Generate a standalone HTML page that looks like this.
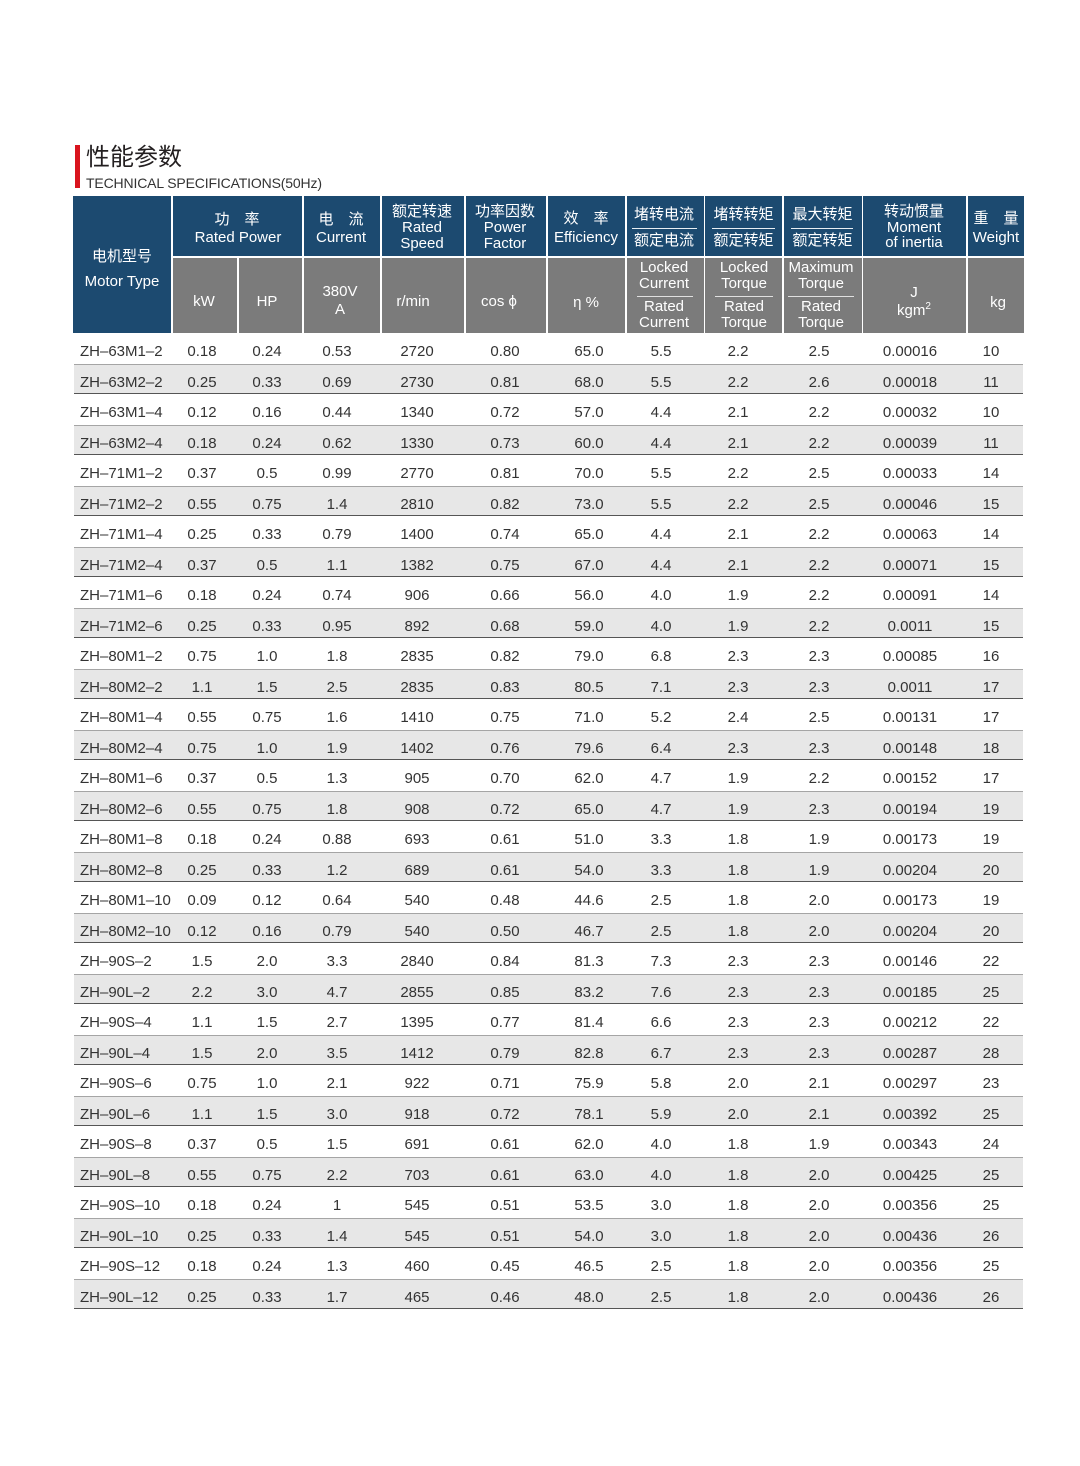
<!DOCTYPE html>
<html><head><meta charset="utf-8">
<style>
body{margin:0;width:1080px;height:1466px;background:#fff;position:relative;overflow:hidden;font-family:"Liberation Sans","Noto Sans CJK SC",sans-serif;}
.b{position:absolute;background:#1c4a70}
.h{position:absolute;background:#7b7b7b}
.t{position:absolute;color:#fff;font-size:15px;line-height:16px;text-align:center;white-space:nowrap;width:120px}
.ln{position:absolute;height:1px;background:#e8eef3}
.r{position:absolute;left:74px;width:949px;height:30.5px;box-sizing:border-box}
.g{background:#e7e7e7;border-top:1px solid #a5a5a5;border-bottom:1.5px solid #555}
.r span{position:absolute;top:9px;line-height:20px;font-size:15px;color:#333;width:80px;text-align:center;white-space:nowrap}
.g span{top:8px}
.r span:nth-child(1){left:6px;text-align:left;width:110px}
.r span:nth-child(2){left:88px}
.r span:nth-child(3){left:153px}
.r span:nth-child(4){left:223px}
.r span:nth-child(5){left:303px}
.r span:nth-child(6){left:391px}
.r span:nth-child(7){left:475px}
.r span:nth-child(8){left:547px}
.r span:nth-child(9){left:624px}
.r span:nth-child(10){left:705px}
.r span:nth-child(11){left:796px}
.r span:nth-child(12){left:877px}
</style></head><body>

<div style="position:absolute;left:75px;top:145px;width:5px;height:43px;background:#d9141e"></div>
<div style="position:absolute;left:86px;top:145.5px;font-size:24px;line-height:24px;color:#231f20;font-family:'Liberation Sans','Noto Sans CJK SC',sans-serif;white-space:nowrap">性能参数</div>
<div style="position:absolute;left:86px;top:175.5px;font-size:14px;line-height:14px;color:#333;letter-spacing:-0.15px;white-space:nowrap">TECHNICAL SPECIFICATIONS(50Hz)</div>

<!-- header blue -->
<div class="b" style="left:73px;top:196px;width:98px;height:137px"></div>
<div class="b" style="left:172.5px;top:196px;width:129.5px;height:60px"></div>
<div class="b" style="left:303.5px;top:196px;width:76.5px;height:60px"></div>
<div class="b" style="left:381.5px;top:196px;width:82.5px;height:60px"></div>
<div class="b" style="left:466px;top:196px;width:80px;height:60px"></div>
<div class="b" style="left:547.5px;top:196px;width:77.5px;height:60px"></div>
<div class="b" style="left:627px;top:196px;width:76.5px;height:60px"></div>
<div class="b" style="left:705px;top:196px;width:77px;height:60px"></div>
<div class="b" style="left:783.5px;top:196px;width:78px;height:60px"></div>
<div class="b" style="left:863px;top:196px;width:103px;height:60px"></div>
<div class="b" style="left:968px;top:196px;width:56px;height:60px"></div>
<!-- header gray -->
<div class="h" style="left:172.5px;top:258px;width:64px;height:75px"></div>
<div class="h" style="left:238.5px;top:258px;width:63.5px;height:75px"></div>
<div class="h" style="left:303.5px;top:258px;width:76.5px;height:75px"></div>
<div class="h" style="left:381.5px;top:258px;width:82.5px;height:75px"></div>
<div class="h" style="left:466px;top:258px;width:80px;height:75px"></div>
<div class="h" style="left:547.5px;top:258px;width:77.5px;height:75px"></div>
<div class="h" style="left:627px;top:258px;width:76.5px;height:75px"></div>
<div class="h" style="left:705px;top:258px;width:77px;height:75px"></div>
<div class="h" style="left:783.5px;top:258px;width:78px;height:75px"></div>
<div class="h" style="left:863px;top:258px;width:103px;height:75px"></div>
<div class="h" style="left:968px;top:258px;width:56px;height:75px"></div>

<!-- header text blue -->
<div class="t" style="left:62px;top:248.7px">电机型号</div>
<div class="t" style="left:62px;top:273.7px">Motor Type</div>

<div class="t" style="left:177px;top:212px">功　率</div>
<div class="t" style="left:178px;top:230px">Rated Power</div>

<div class="t" style="left:281px;top:212px">电　流</div>
<div class="t" style="left:281px;top:230px">Current</div>

<div class="t" style="left:362px;top:203.7px">额定转速</div>
<div class="t" style="left:362px;top:219.7px">Rated</div>
<div class="t" style="left:362px;top:236px">Speed</div>

<div class="t" style="left:445px;top:203.7px">功率因数</div>
<div class="t" style="left:445px;top:219.7px">Power</div>
<div class="t" style="left:445px;top:236px">Factor</div>

<div class="t" style="left:526px;top:211.3px">效　率</div>
<div class="t" style="left:526px;top:230.3px">Efficiency</div>

<div class="t" style="left:604px;top:207px">堵转电流</div>
<div class="ln" style="left:632px;top:228px;width:65px"></div>
<div class="t" style="left:604px;top:233px">额定电流</div>

<div class="t" style="left:683.5px;top:207px">堵转转矩</div>
<div class="ln" style="left:712px;top:228px;width:63px"></div>
<div class="t" style="left:683.5px;top:233px">额定转矩</div>

<div class="t" style="left:762.5px;top:207px">最大转矩</div>
<div class="ln" style="left:791px;top:228px;width:62px"></div>
<div class="t" style="left:762.5px;top:233px">额定转矩</div>

<div class="t" style="left:854px;top:203.7px">转动惯量</div>
<div class="t" style="left:854px;top:219.7px">Moment</div>
<div class="t" style="left:854px;top:235.3px">of inertia</div>

<div class="t" style="left:936px;top:211.3px">重　量</div>
<div class="t" style="left:936px;top:230.3px">Weight</div>

<!-- header text gray -->
<div class="t" style="left:144px;top:293.7px">kW</div>
<div class="t" style="left:207px;top:294px">HP</div>
<div class="t" style="left:280px;top:283.7px">380V</div>
<div class="t" style="left:280px;top:302px">A</div>
<div class="t" style="left:353px;top:294px">r/min</div>
<div class="t" style="left:439px;top:294px">cos ϕ</div>
<div class="t" style="left:526px;top:295.3px">η %</div>

<div class="t" style="left:604px;top:260.3px">Locked</div>
<div class="t" style="left:604px;top:276.3px">Current</div>
<div class="ln" style="left:637px;top:296px;width:56px;background:#e0e0e0"></div>
<div class="t" style="left:604px;top:299.3px">Rated</div>
<div class="t" style="left:604px;top:315.3px">Current</div>

<div class="t" style="left:684px;top:260.3px">Locked</div>
<div class="t" style="left:684px;top:276.3px">Torque</div>
<div class="ln" style="left:715px;top:296px;width:58px;background:#e0e0e0"></div>
<div class="t" style="left:684px;top:299.3px">Rated</div>
<div class="t" style="left:684px;top:315.3px">Torque</div>

<div class="t" style="left:761px;top:260.3px">Maximum</div>
<div class="t" style="left:761px;top:276.3px">Torque</div>
<div class="ln" style="left:788px;top:296px;width:66px;background:#e0e0e0"></div>
<div class="t" style="left:761px;top:299.3px">Rated</div>
<div class="t" style="left:761px;top:315.3px">Torque</div>

<div class="t" style="left:854px;top:284.7px">J</div>
<div class="t" style="left:854px;top:302.7px">kgm<sup style="font-size:10px;line-height:0">2</sup></div>
<div class="t" style="left:938px;top:294.7px">kg</div>

<!-- data rows -->
<div class="r" style="top:333px"><span>ZH–63M1–2</span><span>0.18</span><span>0.24</span><span>0.53</span><span>2720</span><span>0.80</span><span>65.0</span><span>5.5</span><span>2.2</span><span>2.5</span><span>0.00016</span><span>10</span></div>
<div class="r g" style="top:363.5px"><span>ZH–63M2–2</span><span>0.25</span><span>0.33</span><span>0.69</span><span>2730</span><span>0.81</span><span>68.0</span><span>5.5</span><span>2.2</span><span>2.6</span><span>0.00018</span><span>11</span></div>
<div class="r" style="top:394px"><span>ZH–63M1–4</span><span>0.12</span><span>0.16</span><span>0.44</span><span>1340</span><span>0.72</span><span>57.0</span><span>4.4</span><span>2.1</span><span>2.2</span><span>0.00032</span><span>10</span></div>
<div class="r g" style="top:424.5px"><span>ZH–63M2–4</span><span>0.18</span><span>0.24</span><span>0.62</span><span>1330</span><span>0.73</span><span>60.0</span><span>4.4</span><span>2.1</span><span>2.2</span><span>0.00039</span><span>11</span></div>
<div class="r" style="top:455px"><span>ZH–71M1–2</span><span>0.37</span><span>0.5</span><span>0.99</span><span>2770</span><span>0.81</span><span>70.0</span><span>5.5</span><span>2.2</span><span>2.5</span><span>0.00033</span><span>14</span></div>
<div class="r g" style="top:485.5px"><span>ZH–71M2–2</span><span>0.55</span><span>0.75</span><span>1.4</span><span>2810</span><span>0.82</span><span>73.0</span><span>5.5</span><span>2.2</span><span>2.5</span><span>0.00046</span><span>15</span></div>
<div class="r" style="top:516px"><span>ZH–71M1–4</span><span>0.25</span><span>0.33</span><span>0.79</span><span>1400</span><span>0.74</span><span>65.0</span><span>4.4</span><span>2.1</span><span>2.2</span><span>0.00063</span><span>14</span></div>
<div class="r g" style="top:546.5px"><span>ZH–71M2–4</span><span>0.37</span><span>0.5</span><span>1.1</span><span>1382</span><span>0.75</span><span>67.0</span><span>4.4</span><span>2.1</span><span>2.2</span><span>0.00071</span><span>15</span></div>
<div class="r" style="top:577px"><span>ZH–71M1–6</span><span>0.18</span><span>0.24</span><span>0.74</span><span>906</span><span>0.66</span><span>56.0</span><span>4.0</span><span>1.9</span><span>2.2</span><span>0.00091</span><span>14</span></div>
<div class="r g" style="top:607.5px"><span>ZH–71M2–6</span><span>0.25</span><span>0.33</span><span>0.95</span><span>892</span><span>0.68</span><span>59.0</span><span>4.0</span><span>1.9</span><span>2.2</span><span>0.0011</span><span>15</span></div>
<div class="r" style="top:638px"><span>ZH–80M1–2</span><span>0.75</span><span>1.0</span><span>1.8</span><span>2835</span><span>0.82</span><span>79.0</span><span>6.8</span><span>2.3</span><span>2.3</span><span>0.00085</span><span>16</span></div>
<div class="r g" style="top:668.5px"><span>ZH–80M2–2</span><span>1.1</span><span>1.5</span><span>2.5</span><span>2835</span><span>0.83</span><span>80.5</span><span>7.1</span><span>2.3</span><span>2.3</span><span>0.0011</span><span>17</span></div>
<div class="r" style="top:699px"><span>ZH–80M1–4</span><span>0.55</span><span>0.75</span><span>1.6</span><span>1410</span><span>0.75</span><span>71.0</span><span>5.2</span><span>2.4</span><span>2.5</span><span>0.00131</span><span>17</span></div>
<div class="r g" style="top:729.5px"><span>ZH–80M2–4</span><span>0.75</span><span>1.0</span><span>1.9</span><span>1402</span><span>0.76</span><span>79.6</span><span>6.4</span><span>2.3</span><span>2.3</span><span>0.00148</span><span>18</span></div>
<div class="r" style="top:760px"><span>ZH–80M1–6</span><span>0.37</span><span>0.5</span><span>1.3</span><span>905</span><span>0.70</span><span>62.0</span><span>4.7</span><span>1.9</span><span>2.2</span><span>0.00152</span><span>17</span></div>
<div class="r g" style="top:790.5px"><span>ZH–80M2–6</span><span>0.55</span><span>0.75</span><span>1.8</span><span>908</span><span>0.72</span><span>65.0</span><span>4.7</span><span>1.9</span><span>2.3</span><span>0.00194</span><span>19</span></div>
<div class="r" style="top:821px"><span>ZH–80M1–8</span><span>0.18</span><span>0.24</span><span>0.88</span><span>693</span><span>0.61</span><span>51.0</span><span>3.3</span><span>1.8</span><span>1.9</span><span>0.00173</span><span>19</span></div>
<div class="r g" style="top:851.5px"><span>ZH–80M2–8</span><span>0.25</span><span>0.33</span><span>1.2</span><span>689</span><span>0.61</span><span>54.0</span><span>3.3</span><span>1.8</span><span>1.9</span><span>0.00204</span><span>20</span></div>
<div class="r" style="top:882px"><span>ZH–80M1–10</span><span>0.09</span><span>0.12</span><span>0.64</span><span>540</span><span>0.48</span><span>44.6</span><span>2.5</span><span>1.8</span><span>2.0</span><span>0.00173</span><span>19</span></div>
<div class="r g" style="top:912.5px"><span>ZH–80M2–10</span><span>0.12</span><span>0.16</span><span>0.79</span><span>540</span><span>0.50</span><span>46.7</span><span>2.5</span><span>1.8</span><span>2.0</span><span>0.00204</span><span>20</span></div>
<div class="r" style="top:943px"><span>ZH–90S–2</span><span>1.5</span><span>2.0</span><span>3.3</span><span>2840</span><span>0.84</span><span>81.3</span><span>7.3</span><span>2.3</span><span>2.3</span><span>0.00146</span><span>22</span></div>
<div class="r g" style="top:973.5px"><span>ZH–90L–2</span><span>2.2</span><span>3.0</span><span>4.7</span><span>2855</span><span>0.85</span><span>83.2</span><span>7.6</span><span>2.3</span><span>2.3</span><span>0.00185</span><span>25</span></div>
<div class="r" style="top:1004px"><span>ZH–90S–4</span><span>1.1</span><span>1.5</span><span>2.7</span><span>1395</span><span>0.77</span><span>81.4</span><span>6.6</span><span>2.3</span><span>2.3</span><span>0.00212</span><span>22</span></div>
<div class="r g" style="top:1034.5px"><span>ZH–90L–4</span><span>1.5</span><span>2.0</span><span>3.5</span><span>1412</span><span>0.79</span><span>82.8</span><span>6.7</span><span>2.3</span><span>2.3</span><span>0.00287</span><span>28</span></div>
<div class="r" style="top:1065px"><span>ZH–90S–6</span><span>0.75</span><span>1.0</span><span>2.1</span><span>922</span><span>0.71</span><span>75.9</span><span>5.8</span><span>2.0</span><span>2.1</span><span>0.00297</span><span>23</span></div>
<div class="r g" style="top:1095.5px"><span>ZH–90L–6</span><span>1.1</span><span>1.5</span><span>3.0</span><span>918</span><span>0.72</span><span>78.1</span><span>5.9</span><span>2.0</span><span>2.1</span><span>0.00392</span><span>25</span></div>
<div class="r" style="top:1126px"><span>ZH–90S–8</span><span>0.37</span><span>0.5</span><span>1.5</span><span>691</span><span>0.61</span><span>62.0</span><span>4.0</span><span>1.8</span><span>1.9</span><span>0.00343</span><span>24</span></div>
<div class="r g" style="top:1156.5px"><span>ZH–90L–8</span><span>0.55</span><span>0.75</span><span>2.2</span><span>703</span><span>0.61</span><span>63.0</span><span>4.0</span><span>1.8</span><span>2.0</span><span>0.00425</span><span>25</span></div>
<div class="r" style="top:1187px"><span>ZH–90S–10</span><span>0.18</span><span>0.24</span><span>1</span><span>545</span><span>0.51</span><span>53.5</span><span>3.0</span><span>1.8</span><span>2.0</span><span>0.00356</span><span>25</span></div>
<div class="r g" style="top:1217.5px"><span>ZH–90L–10</span><span>0.25</span><span>0.33</span><span>1.4</span><span>545</span><span>0.51</span><span>54.0</span><span>3.0</span><span>1.8</span><span>2.0</span><span>0.00436</span><span>26</span></div>
<div class="r" style="top:1248px"><span>ZH–90S–12</span><span>0.18</span><span>0.24</span><span>1.3</span><span>460</span><span>0.45</span><span>46.5</span><span>2.5</span><span>1.8</span><span>2.0</span><span>0.00356</span><span>25</span></div>
<div class="r g" style="top:1278.5px"><span>ZH–90L–12</span><span>0.25</span><span>0.33</span><span>1.7</span><span>465</span><span>0.46</span><span>48.0</span><span>2.5</span><span>1.8</span><span>2.0</span><span>0.00436</span><span>26</span></div>

</body></html>
